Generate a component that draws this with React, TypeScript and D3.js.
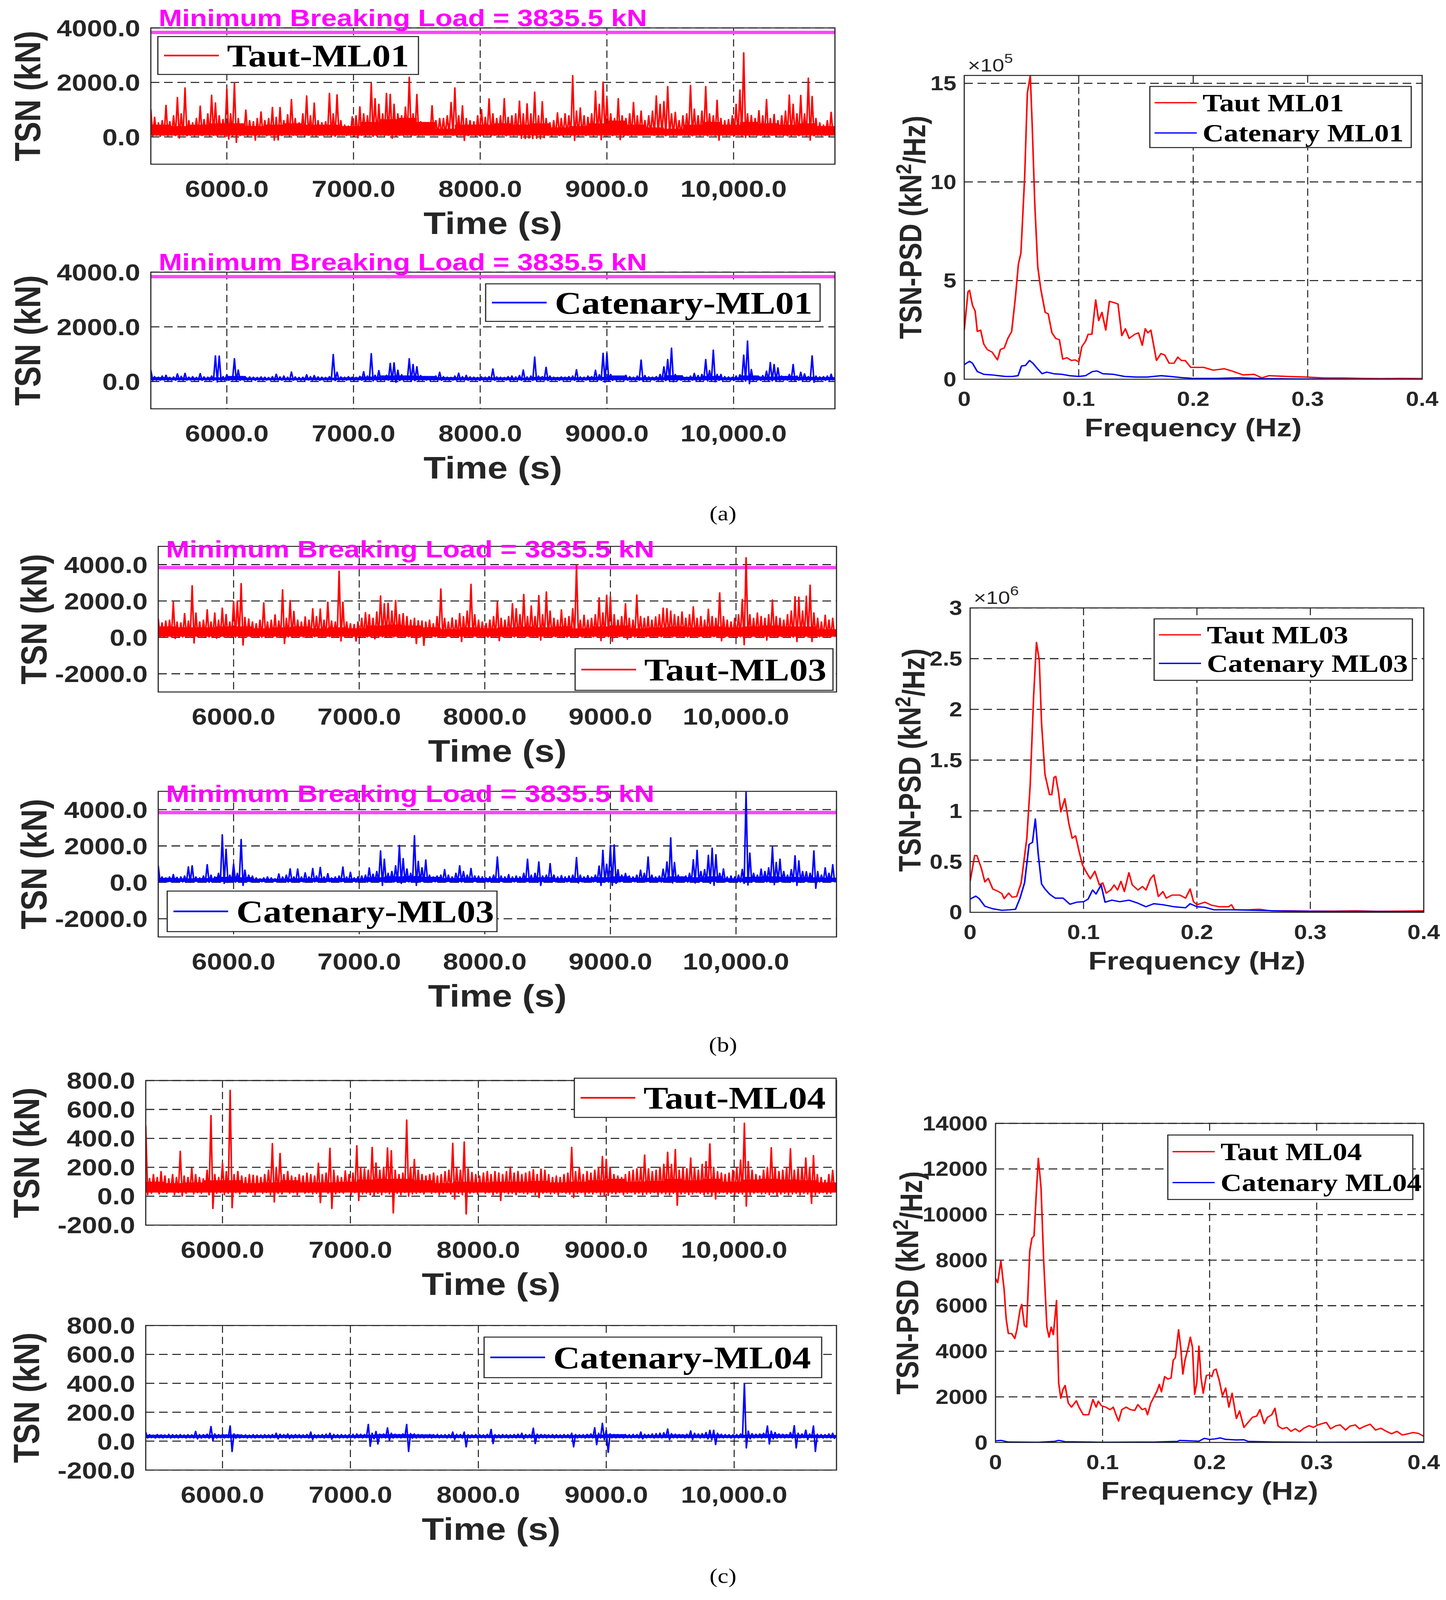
import { useEffect, useRef } from 'react';
import * as d3 from 'd3';

const WIDTH = 3701;
const HEIGHT = 4814;

const SANS = '"Liberation Sans", Arial, Helvetica, sans-serif';
const SERIF = '"Liberation Serif", "Times New Roman", serif';
const AXIS_GREY = '#262626';

// time histories: one max / min pair per 30 s bin, first bin at 5400 s
const T_START = 5400;
const T_END = 10800;
const BIN_SECONDS = 30;
// the solid core of each trace, one level per 150 s
const BAND_SECONDS = 150;
const timeTicks = [6000, 7000, 8000, 9000, 10000];
const timeTickLabels = ['6000.0', '7000.0', '8000.0', '9000.0', '10,000.0'];
const MBL = 3835.5;

const tautML01Hi = [
    1020, 720, 520, 600, 1160, 560, 780, 1450, 850, 1800,
    600, 520, 680, 1130, 640, 850, 1530, 1250, 780, 640,
    1770, 850, 1990, 680, 480, 985, 600, 560, 680, 920,
    600, 680, 1085, 720, 1080, 600, 820, 1375, 680, 520,
    850, 1505, 780, 1245, 600, 520, 560, 1600, 850, 1545,
    600, 440, 400, 740, 780, 1105, 850, 780, 1960, 1405,
    1200, 850, 1600, 1565, 1200, 850, 780, 1100, 2190, 850,
    1560, 560, 440, 520, 1145, 600, 680, 680, 780, 1265,
    1800, 780, 1145, 680, 600, 560, 780, 1005, 720, 1400,
    850, 680, 780, 1405, 720, 780, 850, 1315, 850, 1215,
    850, 1645, 780, 1295, 680, 520, 600, 885, 680, 850,
    780, 2250, 950, 1065, 780, 720, 850, 1685, 1200, 2015,
    1425, 850, 680, 1405, 780, 680, 850, 1265, 780, 950,
    600, 780, 950, 1505, 1200, 1300, 1850, 850, 905, 600,
    780, 850, 1895, 1024, 780, 950, 1850, 850, 780, 1345,
    680, 600, 640, 780, 1200, 1720, 3085, 850, 785, 680,
    965, 780, 1375, 680, 825, 600, 780, 950, 1535, 1200,
    850, 1525, 850, 2160, 1485, 680, 520, 440, 600, 905,
];
const tautML01Lo = [
    40, 60, 20, 60, 40, 60, 50, -40, 60, 40,
    60, 30, 60, 50, 60, 40, 60, 20, 60, 0,
    -80, 40, -200, 50, 60, 40, 60, -120, 50, 60,
    40, 60, -120, -110, 50, 60, 40, 60, 50, 60,
    40, 60, 50, 40, 60, 50, 60, 40, 20, 60,
    60, 50, 60, 40, -30, 60, 40, 60, 20, 40,
    60, 50, 60, -50, 40, 60, 50, 60, 40, 60,
    50, 60, 80, 70, 60, 80, 70, 60, 80, 60,
    40, 60, -130, 50, 60, 40, 60, 50, 60, 40,
    60, 50, 60, 40, 60, 50, 60, -50, -60, -40,
    -60, -50, -70, -30, 60, 40, 60, 50, 40, 60,
    50, -130, 40, 60, 50, 60, 40, 60, -100, 40,
    60, 50, 60, -100, 40, 60, 50, 60, 70, 60,
    80, 70, 60, 50, 60, 40, 60, 50, 60, 70,
    60, 50, 40, 60, 50, 60, 40, 60, 50, -120,
    60, 50, 60, 40, 60, 20, -20, 40, 60, 50,
    60, 40, 50, 60, 40, 60, 50, 40, 20, 60,
    40, 60, 30, -120, 40, 60, 50, 60, 40, 60,
];
const tautML01Band = [
    450, 400, 450, 500, 500, 400, 450, 500, 450, 450, 400, 550, 650, 700, 550, 300, 450, 450,
    500, 450, 500, 350, 400, 500, 600, 450, 350, 300, 450, 550, 450, 550, 500, 450, 500, 400,
];
const catenaryML01Hi = [
    420, 180, 160, 200, 230, 150, 170, 280, 190, 300,
    160, 180, 150, 290, 170, 160, 200, 940, 930, 180,
    250, 170, 835, 420, 180, 150, 170, 160, 150, 170,
    160, 150, 180, 267, 170, 200, 160, 348, 170, 150,
    160, 250, 180, 218, 170, 160, 150, 180, 988, 340,
    170, 160, 180, 160, 150, 190, 360, 200, 1020, 230,
    400, 200, 230, 665, 685, 413, 250, 200, 835, 623,
    542, 220, 180, 160, 170, 200, 340, 180, 160, 150,
    200, 308, 180, 227, 170, 160, 150, 170, 160, 180,
    460, 170, 160, 150, 180, 200, 170, 220, 420, 170,
    200, 895, 200, 180, 520, 200, 160, 150, 170, 160,
    180, 200, 430, 170, 160, 200, 180, 413, 250, 1036,
    1036, 260, 180, 160, 170, 227, 180, 160, 200, 785,
    220, 170, 160, 180, 260, 540, 805, 1222, 260, 180,
    170, 160, 200, 300, 220, 260, 805, 400, 1150, 260,
    260, 180, 170, 160, 200, 250, 968, 1482, 440, 200,
    180, 220, 380, 696, 623, 500, 200, 180, 260, 623,
    200, 340, 280, 180, 940, 200, 170, 180, 200, 267,
];
const catenaryML01Lo = [
    40, 50, 45, 50, 40, 50, 45, 50, 40, 45,
    50, 45, 50, 40, 50, 45, 40, -20, 20, 45,
    40, 50, 10, 40, 50, 45, 50, 40, 50, 45,
    50, 45, 40, 50, 45, 50, 40, 45, 50, 45,
    40, 50, 45, 50, 40, 50, 45, 50, 30, 45,
    50, 45, 50, 40, 50, 45, 30, 50, 20, 45,
    40, 50, 45, 10, -30, 30, 45, 50, 0, 30,
    40, 45, 50, 40, 50, 45, 40, 50, 45, 50,
    40, 45, 50, 40, 50, 45, 40, 50, 45, 50,
    40, 50, 45, 50, 40, 45, 50, 40, 30, 45,
    40, 20, 45, 50, 30, 45, 50, 40, 50, 45,
    50, 40, 30, 45, 50, 40, 45, 20, 40, -25,
    10, 40, 45, 50, 40, 45, 50, 40, 45, 20,
    40, 45, 50, 40, 45, 30, 20, -10, 40, 45,
    50, 40, 45, 40, 30, 45, 20, 30, -10, 40,
    45, 50, 40, 45, 50, 30, 10, -80, 30, 45,
    40, 45, 30, 20, 30, 40, 45, 50, 40, 30,
    45, 40, 45, 40, -30, 45, 50, 40, 45, 40,
];
const catenaryML01Band = [
    160, 140, 140, 150, 200, 140, 130, 130, 140, 140, 150, 180, 220, 220, 200, 160, 150, 150,
    150, 140, 170, 160, 150, 170, 220, 150, 160, 230, 170, 200, 150, 220, 180, 200, 170, 160,
];
const tautML03Hi = [
    1040, 800, 900, 950, 1940, 850, 800, 1310, 900, 2840,
    1340, 850, 950, 1520, 850, 1340, 950, 1610, 1260, 850,
    1970, 2000, 2960, 1100, 1010, 850, 750, 950, 1900, 850,
    950, 1240, 900, 2620, 1050, 2030, 1430, 950, 850, 1130,
    950, 1580, 1150, 1560, 950, 1940, 900, 850, 3640, 1940,
    850, 750, 710, 850, 1050, 1360, 1250, 1050, 1400, 2280,
    1850, 1880, 1450, 2030, 1250, 1310, 1150, 950, 1050, 920,
    900, 850, 950, 750, 1150, 2660, 1050, 850, 1070, 950,
    1310, 1150, 1450, 2920, 1250, 950, 850, 770, 950, 1150,
    1940, 1050, 950, 1150, 1850, 1580, 1250, 2360, 1150, 1730,
    1150, 2300, 1250, 2500, 1450, 1050, 950, 1520, 1050, 1150,
    1580, 3980, 950, 1220, 950, 1050, 1250, 2180, 1350, 2320,
    2240, 1250, 950, 1150, 1850, 1050, 950, 2330, 1150, 1050,
    1150, 950, 1130, 1250, 1610, 1580, 1450, 1250, 1150, 1400,
    1050, 1250, 1680, 1050, 1150, 950, 1550, 1150, 1050, 2450,
    1150, 950, 850, 1050, 1250, 2090, 4380, 1250, 1050, 1340,
    1150, 1050, 1250, 2060, 1150, 1050, 950, 1250, 1450, 2240,
    2210, 1450, 2270, 2870, 1350, 1050, 850, 1220, 950, 1050,
];
const tautML03Lo = [
    20, 40, 0, 30, -60, 40, 20, 30, 10, -310,
    30, 10, 40, 20, 30, -50, 40, 20, 10, 30,
    0, 20, -420, 30, 40, 20, 30, 10, 40, 20,
    30, 10, 40, -340, 20, 30, 10, 40, 20, 30,
    10, 40, 20, 30, 10, 40, 20, 30, -200, 10,
    30, 20, -200, 40, 10, 30, 20, -80, 30, 20,
    40, 10, 30, 20, 40, 10, 30, 20, -340, 10,
    -440, 30, 20, 40, 10, 30, 20, 40, 10, 30,
    -230, 20, 40, 10, 30, 20, 40, 10, 30, 20,
    -180, 30, 10, 40, 20, 30, 10, 40, 20, 30,
    10, -150, 20, 30, 10, 40, 20, 30, 10, 40,
    20, 30, 10, 40, 20, 30, 10, -180, 20, 30,
    -220, 10, 40, 20, -100, 30, 10, 40, 20, 30,
    10, 40, 20, 30, 10, 40, 20, 30, 10, 40,
    20, 30, 10, 40, 20, 30, 10, 40, 20, -190,
    30, 10, 40, 20, 30, -400, 10, 40, 20, 30,
    10, -150, 20, 30, 10, 40, 20, 30, 10, -230,
    20, 30, 10, -230, 20, 30, 10, 40, 20, 30,
];
const tautML03Band = [
    600, 550, 550, 600, 600, 500, 550, 600, 500, 550, 500, 650, 700, 650, 550, 450, 550, 500,
    550, 600, 550, 600, 500, 600, 650, 500, 550, 600, 550, 600, 550, 600, 650, 600, 600, 450,
];
const catenaryML03Hi = [
    915, 300, 250, 300, 430, 280, 300, 350, 855, 915,
    300, 250, 350, 975, 400, 300, 500, 2615, 1820, 400,
    1005, 500, 2360, 675, 400, 345, 250, 200, 250, 300,
    250, 200, 465, 300, 400, 745, 300, 735, 300, 525,
    300, 765, 350, 825, 300, 480, 250, 300, 350, 845,
    300, 555, 250, 300, 350, 400, 795, 450, 600, 1730,
    1275, 500, 600, 915, 2030, 1305, 740, 500, 2570, 1155,
    800, 1230, 400, 300, 350, 400, 705, 400, 300, 500,
    915, 600, 400, 765, 350, 345, 300, 250, 300, 400,
    1400, 350, 300, 430, 300, 350, 300, 500, 1275, 400,
    500, 1125, 350, 400, 1035, 400, 300, 375, 300, 350,
    400, 1365, 400, 300, 375, 300, 400, 900, 1760, 1000,
    2030, 2060, 700, 400, 495, 350, 300, 400, 675, 500,
    1400, 400, 300, 350, 725, 1125, 2450, 1095, 400, 300,
    350, 500, 1245, 1760, 600, 700, 1490, 1880, 1520, 500,
    740, 300, 350, 300, 400, 710, 4950, 1610, 500, 400,
    730, 600, 800, 1950, 1095, 1275, 600, 400, 700, 1460,
    1185, 600, 585, 500, 1730, 600, 400, 800, 500, 975,
];
const catenaryML03Lo = [
    20, 10, 30, 20, 10, 30, 20, 10, 0, 10,
    20, 30, 10, 0, 20, 30, 10, -60, 0, 20,
    10, 20, -170, 20, 30, 10, 20, 30, 10, 20,
    30, 10, 20, 30, 10, 20, 30, 10, 20, 30,
    10, 20, 30, 10, 20, 30, 10, 20, 30, 0,
    20, 30, 10, 20, 30, 10, 20, 30, 10, -170,
    0, 20, 10, 0, -60, 10, 20, 10, -170, 10,
    20, 0, 20, 30, 10, 20, 30, 10, 20, 30,
    10, 20, 30, 10, 20, 30, 10, 20, 30, 10,
    0, 20, 30, 10, 20, 30, 10, 20, 0, 10,
    20, -170, 30, 10, 0, 20, 30, 10, 20, 30,
    10, -40, 20, 30, 10, 20, 30, -170, 0, 10,
    -170, -60, 20, 30, 10, 20, 30, 10, 20, 30,
    0, 20, 30, 10, 20, 0, -40, 10, 20, 30,
    10, 20, -40, 0, 20, 30, -60, -170, 0, 20,
    30, 10, 20, 30, 10, -60, -150, 0, 20, 30,
    10, 20, 0, -130, 10, 20, 30, 10, 20, -170,
    0, 20, 10, 30, -330, 20, 30, 10, 20, 0,
];
const catenaryML03Band = [
    250, 220, 230, 300, 280, 200, 200, 220, 230, 230, 220, 280, 330, 350, 300, 230, 250, 230,
    230, 240, 280, 230, 250, 280, 330, 250, 260, 330, 280, 330, 220, 300, 330, 300, 280, 260,
];
const tautML04Hi = [
    489, 122, 150, 130, 170, 140, 120, 150, 130, 311,
    140, 130, 194, 150, 130, 120, 180, 558, 150, 130,
    228, 170, 732, 150, 171, 140, 130, 150, 145, 140,
    130, 150, 180, 364, 200, 296, 150, 171, 140, 130,
    150, 140, 160, 150, 140, 228, 150, 160, 332, 180,
    140, 130, 175, 150, 160, 349, 200, 190, 180, 338,
    230, 180, 200, 334, 315, 180, 150, 160, 527, 200,
    255, 180, 150, 140, 150, 160, 140, 150, 170, 180,
    366, 200, 180, 375, 190, 164, 150, 140, 160, 171,
    150, 171, 160, 150, 170, 202, 160, 171, 150, 160,
    170, 183, 150, 187, 180, 150, 130, 140, 130, 150,
    160, 338, 170, 198, 150, 171, 160, 180, 200, 275,
    255, 200, 150, 140, 130, 150, 170, 180, 190, 200,
    285, 190, 170, 180, 200, 220, 304, 220, 323, 180,
    200, 190, 264, 200, 180, 220, 240, 362, 200, 170,
    160, 150, 160, 180, 200, 250, 505, 240, 180, 150,
    140, 180, 200, 336, 200, 171, 180, 200, 328, 180,
    190, 200, 264, 200, 281, 150, 130, 110, 150, 179,
];
const tautML04Lo = [
    10, 20, 30, 15, 25, 20, 30, 10, 25, 0,
    20, 30, 15, 25, 20, 30, 10, -85, 20, 25,
    10, 20, -80, 25, 15, 30, 20, 25, 10, 30,
    20, 25, 10, -40, 20, 15, 30, 20, 25, 10,
    30, 20, 25, 15, 20, -45, 30, 20, -85, 15,
    25, 20, 30, 10, 25, -30, 15, 20, 10, 5,
    20, 10, 25, 15, -116, 20, 10, 25, 0, 15,
    20, 25, 15, 30, 20, 25, 10, 20, 25, 15,
    -20, 20, 10, -123, 20, 25, 15, 30, 20, 25,
    10, 20, -30, 25, 15, 20, 10, 25, 20, 15,
    25, 10, -10, 20, 25, 15, 20, 10, 25, 20,
    15, -10, 20, 25, 10, 20, 15, 25, 10, 0,
    5, 20, 15, 25, 10, 20, 25, 15, 20, 10,
    15, 20, 25, 10, 20, 15, 10, 20, -63, 15,
    20, 10, 15, 25, 20, 10, 15, 0, -20, 20,
    25, 15, 20, 10, 20, 15, -69, 10, 20, 25,
    15, 20, 10, 20, 5, 15, 20, 10, 15, 20,
    10, 20, 15, -50, 10, 20, 25, 15, 20, 25,
];
const tautML04Band = [
    100, 90, 95, 110, 110, 90, 95, 110, 95, 95, 100, 115, 120, 120, 110, 90, 100, 95,
    100, 100, 105, 95, 100, 110, 120, 100, 105, 120, 110, 120, 100, 115, 120, 115, 110, 95,
];
const catenaryML04Hi = [
    63, 45, 42, 46, 44, 43, 47, 45, 44, 46,
    43, 45, 44, 68, 46, 45, 48, 101, 50, 45,
    48, 44, 105, 50, 45, 43, 44, 42, 45, 44,
    43, 45, 44, 46, 55, 48, 45, 50, 44, 46,
    45, 44, 46, 63, 45, 44, 46, 48, 55, 47,
    45, 46, 44, 45, 47, 50, 48, 46, 116, 55,
    67, 48, 50, 92, 55, 48, 46, 50, 116, 52,
    50, 46, 45, 44, 46, 45, 47, 44, 45, 46,
    63, 48, 46, 63, 45, 44, 46, 45, 44, 47,
    81, 45, 44, 46, 45, 44, 46, 48, 55, 46,
    45, 90, 48, 46, 45, 44, 46, 45, 44, 46,
    45, 55, 46, 44, 45, 47, 50, 93, 55, 124,
    75, 50, 46, 45, 44, 46, 45, 47, 46, 63,
    48, 46, 50, 52, 55, 58, 84, 52, 48, 46,
    45, 48, 71, 55, 50, 52, 60, 75, 75, 55,
    48, 46, 45, 44, 46, 50, 399, 70, 52, 48,
    50, 55, 105, 70, 60, 50, 48, 46, 60, 107,
    55, 50, 76, 50, 105, 48, 46, 45, 50, 55,
];
const catenaryML04Lo = [
    22, 24, 21, 23, 22, 24, 21, 23, 22, 24,
    21, 23, 22, 15, 21, 23, 20, 5, 21, 23,
    22, 24, -72, 20, 22, 24, 21, 23, 22, 24,
    21, 23, 22, 24, 15, 23, 22, 18, 21, 23,
    22, 24, 21, 10, 22, 24, 21, 23, 12, 24,
    21, 23, 22, 24, 21, 23, 22, 24, -36, 15,
    -20, 23, 22, 5, 21, 23, 22, 24, -72, 20,
    21, 23, 22, 24, 21, 23, 22, 24, 21, 23,
    10, 24, 21, -40, 22, 24, 21, 23, 22, 24,
    -17, 23, 22, 24, 21, 23, 22, 24, 15, 23,
    22, -17, 21, 23, 22, 24, 21, 23, 22, 24,
    21, -40, 22, 24, 21, 23, 22, -25, 21, 10,
    -78, 23, 22, 24, 21, 23, 22, 24, 21, 15,
    22, 24, 21, 23, 22, 24, 10, 23, 22, 24,
    21, 23, 10, 24, 21, 23, 15, 10, -24, 23,
    22, 24, 21, 23, 22, 24, -47, 15, 22, 24,
    21, 23, -20, 15, 21, 23, 22, 24, 21, -47,
    22, 24, 10, 23, -72, 24, 21, 23, 22, 15,
];
const catenaryML04Band = [
    44, 42, 42, 44, 46, 42, 42, 43, 42, 42, 42, 45, 48, 48, 46, 42, 43, 42,
    42, 42, 44, 42, 43, 45, 48, 42, 43, 46, 45, 46, 42, 45, 48, 46, 45, 43,
];

// PSD curves as [frequency (Hz), value in axis units]
const freqTicks = [0, 0.1, 0.2, 0.3, 0.4];

const tautPsd01 = [
    [0, 2.49], [0.0033, 4.44], [0.0046, 4.51], [0.0072, 3.74], [0.0095, 3.46], [0.0114, 2.42],
    [0.0143, 2.49], [0.017, 1.79], [0.02, 1.51], [0.0244, 1.37], [0.029, 0.98], [0.0316, 1.51],
    [0.0349, 1.58], [0.0381, 2.07], [0.0414, 2.42], [0.0447, 4.16], [0.0473, 5.84], [0.0495, 6.4],
    [0.0528, 10.3], [0.0551, 14.5], [0.0577, 15.4], [0.0593, 12.96], [0.0616, 8.9], [0.0642, 5.7],
    [0.0668, 4.58], [0.0707, 3.39], [0.0733, 3.32], [0.0766, 2.35], [0.0799, 2.07], [0.0831, 2.0],
    [0.086, 1.02], [0.0897, 1.09], [0.0936, 0.95], [0.0968, 0.98], [0.1001, 0.88], [0.1027, 1.65],
    [0.106, 1.93], [0.1082, 2.28], [0.1115, 2.28], [0.1148, 4.02], [0.1174, 2.97], [0.1203, 3.39],
    [0.1236, 2.49], [0.1268, 3.95], [0.131, 3.88], [0.1343, 3.81], [0.1376, 2.21], [0.1408, 2.56],
    [0.144, 2.07], [0.149, 2.28], [0.1522, 2.35], [0.1555, 1.72], [0.1581, 2.56], [0.1604, 2.35],
    [0.163, 2.49], [0.1679, 0.95], [0.1718, 1.3], [0.1751, 1.23], [0.179, 0.81], [0.1832, 0.81],
    [0.1865, 1.12], [0.1897, 0.95], [0.193, 0.95], [0.1979, 0.6], [0.2028, 0.6], [0.2093, 0.6],
    [0.2175, 0.46], [0.2272, 0.53], [0.2337, 0.42], [0.2435, 0.22], [0.2533, 0.25], [0.2598, 0.07],
    [0.2663, 0.18], [0.2826, 0.14], [0.2989, 0.11], [0.3152, 0.06], [0.3315, 0.06], [0.3478, 0.04],
    [0.3641, 0.03], [0.3804, 0.04], [0.4, 0.03],
];
const catPsd01 = [
    [0, 0.74], [0.0046, 0.91], [0.0072, 0.81], [0.0114, 0.39], [0.017, 0.25], [0.024, 0.22],
    [0.03, 0.18], [0.036, 0.14], [0.042, 0.14], [0.047, 0.18], [0.05, 0.67], [0.0535, 0.7],
    [0.057, 0.95], [0.06, 0.81], [0.064, 0.53], [0.068, 0.28], [0.072, 0.36], [0.078, 0.28],
    [0.085, 0.25], [0.092, 0.18], [0.1, 0.14], [0.106, 0.18], [0.112, 0.39], [0.116, 0.42],
    [0.121, 0.28], [0.13, 0.25], [0.14, 0.14], [0.15, 0.11], [0.16, 0.11], [0.172, 0.18],
    [0.18, 0.14], [0.19, 0.08], [0.2, 0.04], [0.22, 0.04], [0.24, 0.07], [0.26, 0.03],
    [0.3, 0.01], [0.35, 0.0], [0.4, 0.0],
];
const tautPsd03 = [
    [0, 0.305], [0.004, 0.56], [0.006, 0.56], [0.01, 0.43], [0.013, 0.3], [0.016, 0.335],
    [0.02, 0.23], [0.025, 0.205], [0.028, 0.185], [0.03, 0.135], [0.034, 0.19], [0.037, 0.15],
    [0.041, 0.155], [0.045, 0.29], [0.048, 0.555], [0.05, 0.73], [0.053, 1.26], [0.056, 2.13],
    [0.0585, 2.66], [0.061, 2.48], [0.063, 1.86], [0.066, 1.36], [0.07, 1.16], [0.072, 1.16],
    [0.074, 1.33], [0.0755, 1.34], [0.078, 1.18], [0.08, 0.99], [0.0835, 1.12], [0.087, 0.88],
    [0.09, 0.73], [0.093, 0.755], [0.096, 0.605], [0.099, 0.47], [0.102, 0.405], [0.106, 0.33],
    [0.11, 0.405], [0.114, 0.27], [0.117, 0.29], [0.12, 0.19], [0.124, 0.22], [0.127, 0.27],
    [0.13, 0.22], [0.133, 0.305], [0.136, 0.205], [0.14, 0.39], [0.143, 0.27], [0.148, 0.22],
    [0.152, 0.255], [0.155, 0.22], [0.159, 0.33], [0.162, 0.37], [0.166, 0.155], [0.17, 0.205],
    [0.173, 0.14], [0.178, 0.17], [0.185, 0.17], [0.19, 0.14], [0.194, 0.23], [0.197, 0.105],
    [0.2, 0.075], [0.207, 0.1], [0.213, 0.07], [0.22, 0.055], [0.228, 0.055], [0.2305, 0.075],
    [0.233, 0.025], [0.245, 0.025], [0.255, 0.03], [0.265, 0.015], [0.28, 0.015], [0.3, 0.012],
    [0.32, 0.012], [0.34, 0.015], [0.36, 0.01], [0.38, 0.012], [0.4, 0.015],
];
const catPsd03 = [
    [0, 0.13], [0.005, 0.16], [0.008, 0.135], [0.013, 0.06], [0.02, 0.035], [0.028, 0.02],
    [0.035, 0.025], [0.04, 0.03], [0.044, 0.14], [0.048, 0.29], [0.052, 0.67], [0.055, 0.69],
    [0.0575, 0.92], [0.06, 0.58], [0.063, 0.28], [0.066, 0.23], [0.07, 0.18], [0.075, 0.14],
    [0.082, 0.14], [0.088, 0.08], [0.094, 0.1], [0.1, 0.105], [0.104, 0.13], [0.108, 0.22],
    [0.111, 0.18], [0.1155, 0.27], [0.119, 0.1], [0.125, 0.12], [0.132, 0.105], [0.14, 0.12],
    [0.148, 0.09], [0.155, 0.055], [0.162, 0.085], [0.17, 0.075], [0.18, 0.055], [0.19, 0.045],
    [0.194, 0.085], [0.2, 0.055], [0.207, 0.05], [0.215, 0.025], [0.23, 0.025], [0.25, 0.02],
    [0.28, 0.012], [0.32, 0.008], [0.36, 0.008], [0.4, 0.005],
];
const tautPsd04 = [
    [0, 7200], [0.002, 7010], [0.005, 7960], [0.008, 6730], [0.01, 5400], [0.012, 4780],
    [0.015, 4780], [0.018, 4560], [0.02, 4950], [0.023, 5840], [0.0245, 6060], [0.027, 5120],
    [0.029, 5060], [0.032, 8400], [0.034, 8960], [0.036, 9070], [0.038, 10860], [0.04, 12470],
    [0.0425, 11190], [0.045, 7960], [0.048, 5060], [0.05, 4620], [0.052, 5060], [0.054, 4730],
    [0.057, 6230], [0.059, 2610], [0.061, 1940], [0.063, 2330], [0.065, 2500], [0.068, 1720],
    [0.071, 1550], [0.0755, 1830], [0.078, 1550], [0.082, 1215], [0.087, 1215], [0.091, 1885],
    [0.094, 1550], [0.096, 1810], [0.099, 1610], [0.103, 1550], [0.107, 1440], [0.11, 1550],
    [0.113, 1160], [0.115, 940], [0.118, 1440], [0.122, 1550], [0.126, 1440], [0.13, 1405],
    [0.133, 1660], [0.137, 1440], [0.14, 1500], [0.142, 1215], [0.145, 1720], [0.148, 1995],
    [0.151, 2270], [0.153, 2550], [0.155, 2220], [0.158, 2890], [0.161, 2780], [0.164, 2830],
    [0.166, 3610], [0.168, 3720], [0.171, 4950], [0.173, 4170], [0.175, 3000], [0.177, 3610],
    [0.18, 4170], [0.182, 4620], [0.184, 4170], [0.186, 2110], [0.188, 2610], [0.19, 4230],
    [0.192, 2830], [0.194, 2160], [0.197, 2940], [0.2, 2970], [0.202, 2890], [0.204, 3170],
    [0.206, 3220], [0.209, 2720], [0.212, 2050], [0.215, 2390], [0.218, 1550], [0.221, 2160],
    [0.225, 1050], [0.228, 1385], [0.232, 660], [0.236, 880], [0.24, 1105], [0.244, 1160],
    [0.247, 1440], [0.251, 825], [0.254, 1105], [0.258, 1215], [0.261, 1500], [0.264, 715],
    [0.268, 600], [0.272, 660], [0.276, 490], [0.28, 600], [0.284, 470], [0.288, 625],
    [0.293, 735], [0.297, 660], [0.301, 770], [0.305, 825], [0.309, 880], [0.313, 600],
    [0.318, 735], [0.322, 770], [0.327, 545], [0.331, 715], [0.336, 770], [0.34, 600],
    [0.345, 715], [0.35, 800], [0.355, 545], [0.36, 625], [0.365, 490], [0.37, 380],
    [0.375, 490], [0.38, 325], [0.385, 380], [0.39, 435], [0.395, 400], [0.4, 270],
];
const catPsd04 = [
    [0, 70], [0.005, 90], [0.012, 20], [0.04, 10], [0.055, 45], [0.059, 90], [0.065, 35],
    [0.1, 10], [0.15, 20], [0.17, 45], [0.172, 90], [0.19, 55], [0.195, 180], [0.2, 135],
    [0.205, 155], [0.21, 200], [0.215, 135], [0.225, 110], [0.232, 120], [0.236, 45],
    [0.26, 20], [0.3, 10], [0.4, 20],
];

interface Box { x: number; y: number; w: number; h: number; }

interface TimePanel {
    id: string;
    left: number; right: number; top: number; bottom: number;
    yDomain: [number, number];
    yTicks: number[];
    hi: number[]; lo: number[];
    band: number[]; floor: number;
    color: string;
    label: string;
    legend: Box;
    mblX?: number;
    mblBaseline?: number;
    yLabelX: number;
}

interface PsdPanel {
    id: string;
    left: number; right: number; top: number; bottom: number;
    yDomain: [number, number];
    yTicks: number[];
    exponent?: string;
    taut: number[][]; catenary: number[][];
    tautLabel: string; catLabel: string;
    legend: Box;
    rows: [number, number];
    yLabelX: number;
}

const ML_TICKS = [0, 2000, 4000];
const ML03_TICKS = [-2000, 0, 2000, 4000];
const ML04_TICKS = [-200, 0, 200, 400, 600, 800];

const timePanels: TimePanel[] = [
    { id: 'a1', left: 386, right: 2137, top: 84, bottom: 494, yDomain: [-1000, 4000], yTicks: ML_TICKS,
      hi: tautML01Hi, lo: tautML01Lo, band: tautML01Band, floor: 50, color: '#ff0000', label: 'Taut-ML01',
      legend: { x: 404, y: 110, w: 667, h: 114 }, mblX: 406, mblBaseline: 79, yLabelX: 70 },
    { id: 'a2', left: 386, right: 2137, top: 819, bottom: 1230, yDomain: [-1000, 4000], yTicks: ML_TICKS,
      hi: catenaryML01Hi, lo: catenaryML01Lo, band: catenaryML01Band, floor: 45, color: '#0000ff', label: 'Catenary-ML01',
      legend: { x: 1243, y: 854, w: 856, h: 113 }, mblX: 406, mblBaseline: 813, yLabelX: 70 },
    { id: 'b1', left: 405, right: 2141, top: 1644, bottom: 2082, yDomain: [-3000, 5000], yTicks: ML03_TICKS,
      hi: tautML03Hi, lo: tautML03Lo, band: tautML03Band, floor: 40, color: '#ff0000', label: 'Taut-ML03',
      legend: { x: 1472, y: 1952, w: 660, h: 125 }, mblX: 425, mblBaseline: 1677, yLabelX: 86 },
    { id: 'b2', left: 405, right: 2141, top: 2381, bottom: 2819, yDomain: [-3000, 5000], yTicks: ML03_TICKS,
      hi: catenaryML03Hi, lo: catenaryML03Lo, band: catenaryML03Band, floor: 20, color: '#0000ff', label: 'Catenary-ML03',
      legend: { x: 428, y: 2681, w: 844, h: 122 }, mblX: 425, mblBaseline: 2413, yLabelX: 86 },
    { id: 'c1', left: 373, right: 2141, top: 3251, bottom: 3686, yDomain: [-200, 800], yTicks: ML04_TICKS,
      hi: tautML04Hi, lo: tautML04Lo, band: tautML04Band, floor: 25, color: '#ff0000', label: 'Taut-ML04',
      legend: { x: 1470, y: 3244, w: 670, h: 118 }, yLabelX: 67 },
    { id: 'c2', left: 373, right: 2141, top: 3988, bottom: 4423, yDomain: [-200, 800], yTicks: ML04_TICKS,
      hi: catenaryML04Hi, lo: catenaryML04Lo, band: catenaryML04Band, floor: 22, color: '#0000ff', label: 'Catenary-ML04',
      legend: { x: 1239, y: 4023, w: 864, h: 122 }, yLabelX: 67 },
];

const psdPanels: PsdPanel[] = [
    { id: 'pa', left: 2468, right: 3640, top: 227, bottom: 1141, yDomain: [0, 15.4], yTicks: [0, 5, 10, 15],
      exponent: '5', taut: tautPsd01, catenary: catPsd01, tautLabel: 'Taut ML01', catLabel: 'Catenary ML01',
      legend: { x: 2943, y: 260, w: 669, h: 184 }, rows: [49, 140], yLabelX: 2330 },
    { id: 'pb', left: 2483, right: 3644, top: 1829, bottom: 2745, yDomain: [0, 3], yTicks: [0, 0.5, 1, 1.5, 2, 2.5, 3],
      exponent: '6', taut: tautPsd03, catenary: catPsd03, tautLabel: 'Taut ML03', catLabel: 'Catenary ML03',
      legend: { x: 2954, y: 1862, w: 661, h: 185 }, rows: [48, 134], yLabelX: 2328 },
    { id: 'pc', left: 2548, right: 3644, top: 3380, bottom: 4340, yDomain: [0, 14000],
      yTicks: [0, 2000, 4000, 6000, 8000, 10000, 12000, 14000],
      taut: tautPsd04, catenary: catPsd04, tautLabel: 'Taut ML04', catLabel: 'Catenary ML04',
      legend: { x: 2989, y: 3415, w: 627, h: 194 }, rows: [50, 143], yLabelX: 2322 },
];

const captions = [
    { text: '(a)', y: 1566 },
    { text: '(b)', y: 3164 },
    { text: '(c)', y: 4762 },
];

function addClip(defs: any, id: string, p: { left: number; right: number; top: number; bottom: number }) {
    defs.append('clipPath')
        .attr('id', id)
        .append('rect')
        .attr('x', p.left)
        .attr('y', p.top)
        .attr('width', p.right - p.left)
        .attr('height', p.bottom - p.top);
}

function drawTimePanel(svg: any, defs: any, p: TimePanel) {
    const x = d3.scaleLinear().domain([T_START, T_END]).range([p.left, p.right]);
    const y = d3.scaleLinear().domain(p.yDomain).range([p.bottom, p.top]);
    const clipId = `clip-${p.id}`;
    addClip(defs, clipId, p);

    const g = svg.append('g');

    // dashed grid
    const grid = g.append('g').attr('stroke', '#1a1a1a').attr('stroke-dasharray', '22,12');
    timeTicks.forEach((t) => {
        grid.append('line')
            .attr('x1', x(t)).attr('x2', x(t))
            .attr('y1', p.top).attr('y2', p.bottom)
            .attr('stroke-width', 2.5);
    });
    p.yTicks.forEach((v) => {
        grid.append('line')
            .attr('x1', p.left).attr('x2', p.right)
            .attr('y1', y(v)).attr('y2', y(v))
            .attr('stroke-width', 3);
    });

    const plot = g.append('g').attr('clip-path', `url(#${clipId})`);

    if (p.mblX !== undefined) {
        plot.append('line')
            .attr('x1', p.left).attr('x2', p.right)
            .attr('y1', y(MBL)).attr('y2', y(MBL))
            .attr('stroke', '#ff44ff')
            .attr('stroke-width', 10);
    }

    // dense core of the record
    const bandPts: [number, number][] = p.band.map((v, i) => [T_START + i * BAND_SECONDS, v]);
    bandPts.push([T_END, p.band[p.band.length - 1]]);
    const area = d3.area<[number, number]>()
        .x((d) => x(d[0]))
        .y0(y(p.floor))
        .y1((d) => y(d[1]))
        .curve(d3.curveStepAfter);
    plot.append('path').datum(bandPts).attr('d', area).attr('fill', p.color);

    // max / min of each bin, joined as one zig-zag trace
    const pts: [number, number][] = [];
    p.hi.forEach((h, i) => {
        const t = T_START + i * BIN_SECONDS;
        pts.push([t, h]);
        pts.push([t + BIN_SECONDS / 2, p.lo[i]]);
    });
    const line = d3.line<[number, number]>()
        .x((d) => x(d[0]))
        .y((d) => y(d[1]));
    plot.append('path')
        .datum(pts)
        .attr('d', line)
        .attr('fill', 'none')
        .attr('stroke', p.color)
        .attr('stroke-width', 4)
        .attr('stroke-linejoin', 'round');

    g.append('rect')
        .attr('x', p.left).attr('y', p.top)
        .attr('width', p.right - p.left).attr('height', p.bottom - p.top)
        .attr('fill', 'none')
        .attr('stroke', AXIS_GREY)
        .attr('stroke-width', 3);

    // tick labels
    timeTicks.forEach((t, i) => {
        g.append('text')
            .attr('x', x(t))
            .attr('y', p.bottom + 98)
            .attr('text-anchor', 'middle')
            .attr('font-family', SANS)
            .attr('font-weight', 'bold')
            .attr('font-size', 70)
            .attr('fill', AXIS_GREY)
            .text(timeTickLabels[i]);
    });
    p.yTicks.forEach((v) => {
        g.append('text')
            .attr('x', p.left - 27)
            .attr('y', y(v) + 25)
            .attr('text-anchor', 'end')
            .attr('font-family', SANS)
            .attr('font-weight', 'bold')
            .attr('font-size', 70)
            .attr('fill', AXIS_GREY)
            .text(v.toFixed(1));
    });

    // axis titles
    g.append('text')
        .attr('x', (p.left + p.right) / 2)
        .attr('y', p.bottom + 210)
        .attr('text-anchor', 'middle')
        .attr('font-family', SANS)
        .attr('font-weight', 'bold')
        .attr('font-size', 93)
        .attr('fill', AXIS_GREY)
        .text('Time (s)');
    g.append('text')
        .attr('transform', `translate(${p.yLabelX},${(p.top + p.bottom) / 2}) rotate(-90)`)
        .attr('dy', '0.35em')
        .attr('text-anchor', 'middle')
        .attr('font-family', SANS)
        .attr('font-weight', 'bold')
        .attr('font-size', 93)
        .attr('fill', AXIS_GREY)
        .text('TSN (kN)');

    // legend
    const lb = p.legend;
    const cy = lb.y + lb.h / 2;
    g.append('rect')
        .attr('x', lb.x).attr('y', lb.y).attr('width', lb.w).attr('height', lb.h)
        .attr('fill', '#ffffff')
        .attr('stroke', AXIS_GREY)
        .attr('stroke-width', 3);
    g.append('line')
        .attr('x1', lb.x + 16).attr('x2', lb.x + 156)
        .attr('y1', cy).attr('y2', cy)
        .attr('stroke', p.color)
        .attr('stroke-width', 5);
    g.append('text')
        .attr('x', lb.x + 177)
        .attr('y', cy + 33)
        .attr('font-family', SERIF)
        .attr('font-weight', 'bold')
        .attr('font-size', 95)
        .attr('fill', '#000000')
        .text(p.label);

    if (p.mblX !== undefined) {
        g.append('text')
            .attr('x', p.mblX)
            .attr('y', p.mblBaseline)
            .attr('font-family', SANS)
            .attr('font-weight', 'bold')
            .attr('font-size', 72)
            .attr('fill', '#ff00ff')
            .text(`Minimum Breaking Load = ${MBL} kN`);
    }
}

function drawPsdPanel(svg: any, defs: any, p: PsdPanel) {
    const x = d3.scaleLinear().domain([0, 0.4]).range([p.left, p.right]);
    const y = d3.scaleLinear().domain(p.yDomain).range([p.bottom, p.top]);
    const clipId = `clip-${p.id}`;
    addClip(defs, clipId, p);

    const g = svg.append('g');
    const grid = g.append('g').attr('stroke', '#1a1a1a').attr('stroke-dasharray', '22,12');
    freqTicks.slice(1, -1).forEach((f) => {
        grid.append('line')
            .attr('x1', x(f)).attr('x2', x(f))
            .attr('y1', p.top).attr('y2', p.bottom)
            .attr('stroke-width', 2.5);
    });
    p.yTicks.slice(1).forEach((v) => {
        grid.append('line')
            .attr('x1', p.left).attr('x2', p.right)
            .attr('y1', y(v)).attr('y2', y(v))
            .attr('stroke-width', 3);
    });

    const line = d3.line<number[]>()
        .x((d) => x(d[0]))
        .y((d) => y(d[1]));
    const plot = g.append('g').attr('clip-path', `url(#${clipId})`);
    plot.append('path').datum(p.taut).attr('d', line)
        .attr('fill', 'none').attr('stroke', '#ff0000').attr('stroke-width', 4).attr('stroke-linejoin', 'round');
    plot.append('path').datum(p.catenary).attr('d', line)
        .attr('fill', 'none').attr('stroke', '#0000ff').attr('stroke-width', 4).attr('stroke-linejoin', 'round');

    g.append('rect')
        .attr('x', p.left).attr('y', p.top)
        .attr('width', p.right - p.left).attr('height', p.bottom - p.top)
        .attr('fill', 'none')
        .attr('stroke', AXIS_GREY)
        .attr('stroke-width', 3);

    freqTicks.forEach((f) => {
        g.append('text')
            .attr('x', x(f))
            .attr('y', p.bottom + 80)
            .attr('text-anchor', 'middle')
            .attr('font-family', SANS)
            .attr('font-weight', 'bold')
            .attr('font-size', 60)
            .attr('fill', AXIS_GREY)
            .text(String(f));
    });
    p.yTicks.forEach((v) => {
        g.append('text')
            .attr('x', p.left - 20)
            .attr('y', y(v) + 21)
            .attr('text-anchor', 'end')
            .attr('font-family', SANS)
            .attr('font-weight', 'bold')
            .attr('font-size', 60)
            .attr('fill', AXIS_GREY)
            .text(String(v));
    });

    if (p.exponent) {
        const ex = g.append('text')
            .attr('x', p.left + 9)
            .attr('y', p.top - 12)
            .attr('font-family', SANS)
            .attr('font-size', 55)
            .attr('fill', AXIS_GREY);
        ex.append('tspan').text('\u00d710');
        ex.append('tspan').attr('dy', -26).attr('font-size', 40).text(p.exponent);
    }

    g.append('text')
        .attr('x', (p.left + p.right) / 2)
        .attr('y', p.bottom + 172)
        .attr('text-anchor', 'middle')
        .attr('font-family', SANS)
        .attr('font-weight', 'bold')
        .attr('font-size', 77)
        .attr('fill', AXIS_GREY)
        .text('Frequency (Hz)');

    const yl = g.append('text')
        .attr('transform', `translate(${p.yLabelX},${(p.top + p.bottom) / 2}) rotate(-90)`)
        .attr('text-anchor', 'middle')
        .attr('font-family', SANS)
        .attr('font-weight', 'bold')
        .attr('font-size', 79)
        .attr('fill', AXIS_GREY);
    yl.append('tspan').attr('dy', '0.35em').text('TSN-PSD (kN');
    yl.append('tspan').attr('dy', '-0.45em').attr('font-size', 56).text('2');
    yl.append('tspan').attr('dy', '0.45em').text('/Hz)');

    const lb = p.legend;
    g.append('rect')
        .attr('x', lb.x).attr('y', lb.y).attr('width', lb.w).attr('height', lb.h)
        .attr('fill', '#ffffff')
        .attr('stroke', AXIS_GREY)
        .attr('stroke-width', 3);
    const entries = [
        { label: p.tautLabel, color: '#ff0000', dy: p.rows[0] },
        { label: p.catLabel, color: '#0000ff', dy: p.rows[1] },
    ];
    entries.forEach((e) => {
        const ry = lb.y + e.dy;
        g.append('line')
            .attr('x1', lb.x + 12).attr('x2', lb.x + 120)
            .attr('y1', ry).attr('y2', ry)
            .attr('stroke', e.color)
            .attr('stroke-width', 4);
        g.append('text')
            .attr('x', lb.x + 135)
            .attr('y', ry + 26)
            .attr('font-family', SERIF)
            .attr('font-weight', 'bold')
            .attr('font-size', 75)
            .attr('fill', '#000000')
            .text(e.label);
    });
}

export default function App() {
    const svgRef = useRef<SVGSVGElement>(null);
    // the browser caps its viewport below the figure height, so the figure is fitted to what is visible
    const viewW = typeof window !== 'undefined' ? window.innerWidth || WIDTH : WIDTH;
    const viewH = typeof window !== 'undefined' ? Math.min(window.innerHeight || HEIGHT, HEIGHT) : HEIGHT;

    useEffect(() => {
        document.body.style.margin = '0';
        document.body.style.overflow = 'hidden';
        if (!svgRef.current) return;
        const svg = d3.select(svgRef.current);
        svg.selectAll('*').remove();

        svg.append('rect').attr('width', WIDTH).attr('height', HEIGHT).attr('fill', '#ffffff');
        const defs = svg.append('defs');

        timePanels.forEach((p) => drawTimePanel(svg, defs, p));
        psdPanels.forEach((p) => drawPsdPanel(svg, defs, p));

        captions.forEach((c) => {
            svg.append('text')
                .attr('x', WIDTH / 2)
                .attr('y', c.y)
                .attr('text-anchor', 'middle')
                .attr('font-family', SERIF)
                .attr('font-size', 62)
                .attr('fill', '#000000')
                .text(c.text);
        });
    }, []);

    return (
        <svg
            ref={svgRef}
            width={viewW}
            height={viewH}
            viewBox={`0 0 ${WIDTH} ${HEIGHT}`}
            preserveAspectRatio="none"
            style={{ display: 'block' }}
        />
    );
}
